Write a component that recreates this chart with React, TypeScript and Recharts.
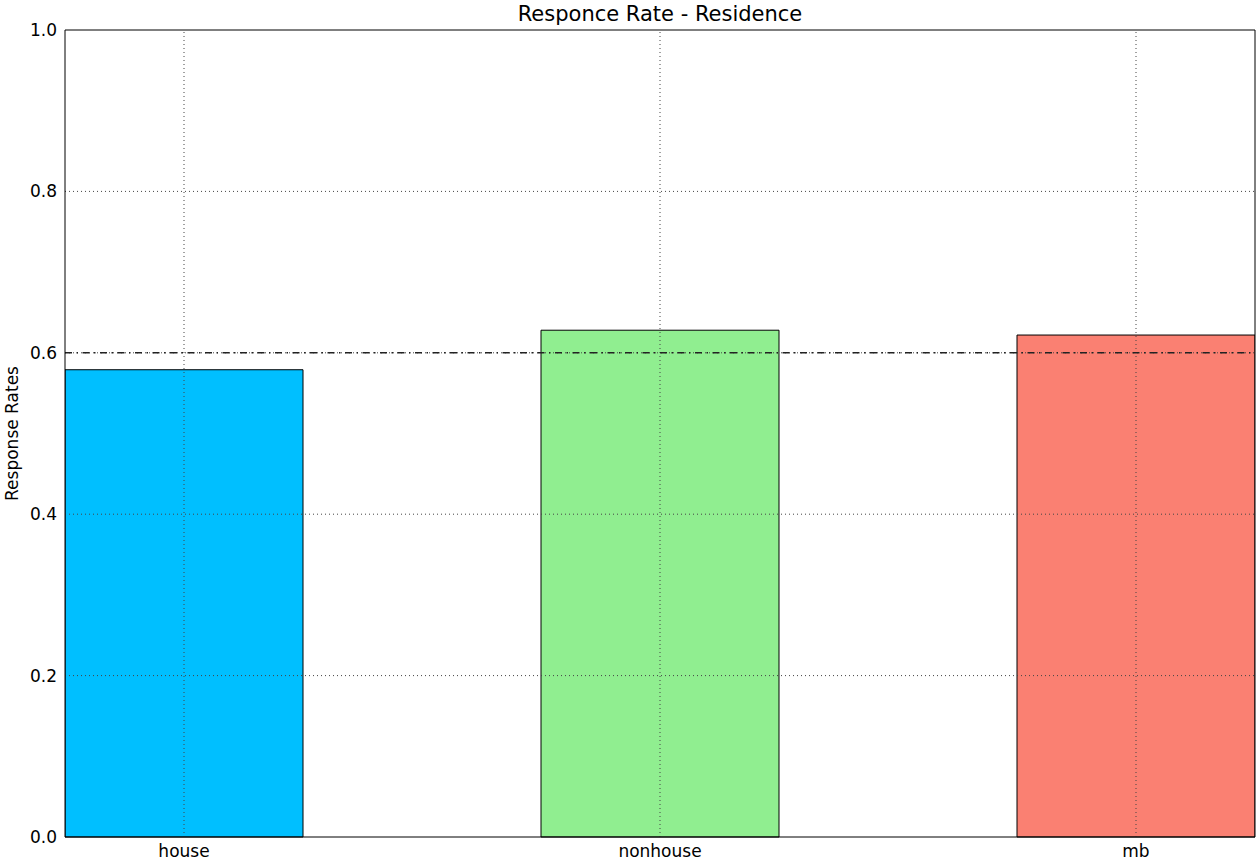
import React from "react";
import {
  BarChart,
  Bar,
  Cell,
  XAxis,
  YAxis,
  ReferenceLine,
} from "recharts";

// categories and their response rates
const categories = ["house", "nonhouse", "mb"];
const responseRates = [0.579, 0.628, 0.622];
const barColors = ["#00BFFF", "#90EE90", "#FA8072"];
const yTicks = [0, 0.2, 0.4, 0.6, 0.8, 1.0];
const xDomain = [-0.25, 2.25];
const targetRate = 0.6;

const FONT = "'DejaVu Sans', sans-serif";

const data = categories.map((name, i) => ({
  pos: i,
  name,
  rate: responseRates[i],
}));

export default function App() {
  const tickStyle = { fill: "#000", fontSize: 17, fontFamily: FONT };

  return (
    <div style={{ position: "absolute", left: 0, top: 0, width: 1257, height: 863, background: "#fff" }}>
      <div
        style={{
          position: "absolute",
          top: 4,
          left: 65,
          width: 1190,
          textAlign: "center",
          fontFamily: FONT,
          fontSize: 21,
          lineHeight: "21px",
          color: "#000",
        }}
      >
        Responce Rate - Residence
      </div>
      <BarChart
        width={1257}
        height={863}
        data={data}
        margin={{ top: 30, right: 2, bottom: 0, left: 0 }}
      >
        <XAxis
          dataKey="pos"
          type="number"
          domain={xDomain}
          ticks={[0, 1, 2]}
          allowDataOverflow
          tickFormatter={(v: number) => categories[v] ?? ""}
          tick={tickStyle}
          tickLine={false}
          axisLine={{ stroke: "#000" }}
          height={26}
        />
        <YAxis
          type="number"
          domain={[0, 1]}
          ticks={yTicks}
          tickFormatter={(v: number) => v.toFixed(1)}
          tick={tickStyle}
          tickLine={false}
          axisLine={{ stroke: "#000" }}
          width={65}
          label={{
            value: "Response Rates",
            angle: -90,
            position: "insideLeft",
            offset: 12,
            style: { textAnchor: "middle", fill: "#000", fontSize: 17, fontFamily: FONT },
          }}
        />
        <Bar dataKey="rate" barSize={238} stroke="#000" strokeWidth={1} isAnimationActive={false}>
          {data.map((d, i) => (
            <Cell key={d.name} fill={barColors[i]} />
          ))}
        </Bar>
        {/* dotted grid drawn over the bars, like the original */}
        {yTicks.slice(1, -1).map((t) => (
          <ReferenceLine key={"y" + t} y={t} stroke="#444" strokeDasharray="1 3" />
        ))}
        {data.map((d) => (
          <ReferenceLine key={"x" + d.pos} x={d.pos} stroke="#444" strokeDasharray="1 3" />
        ))}
        <ReferenceLine
          y={targetRate}
          stroke="#222"
          strokeWidth={1.6}
          strokeDasharray="7 4.5 1.5 4.5"
        />
        {/* top and right edges of the frame */}
        <ReferenceLine y={1} stroke="#000" ifOverflow="visible" />
        <ReferenceLine x={xDomain[1]} stroke="#000" ifOverflow="visible" />
      </BarChart>
    </div>
  );
}
